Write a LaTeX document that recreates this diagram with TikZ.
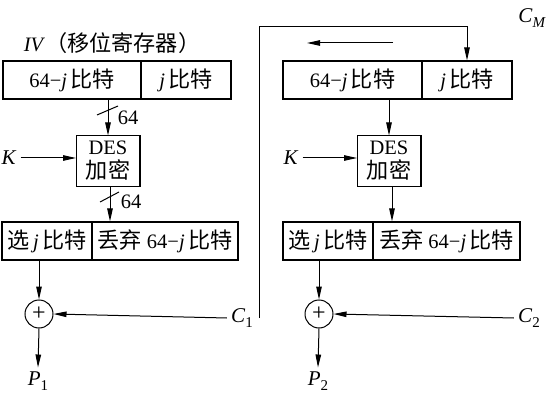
\documentclass[tikz,border=0pt]{standalone}
\usepackage{fontspec}
\setmainfont{Liberation Serif}
\newfontfamily\cjk[Scale=1.08]{Noto Sans CJK SC}
\usetikzlibrary{arrows.meta}
\newcommand{\isub}[2]{\textit{#1}\raisebox{-0.5ex}{\fontsize{15}{16}\selectfont #2}}
\tikzset{
  box/.style={draw, line width=1.1pt, minimum height=38pt, inner sep=0pt},
  desbox/.style={draw, line width=1pt, minimum width=63pt, minimum height=50pt, inner sep=0pt, align=center, font=\fontsize{20.5}{24}\selectfont},
  arr/.style={-{Triangle[length=13pt,width=5.5pt]}, line width=1pt},
  ln/.style={line width=1pt},
  xorc/.style={draw, circle, line width=1pt, minimum size=28pt, inner sep=0pt, font=\fontsize{24}{24}\selectfont},
  lbl/.style={inner sep=4pt, font=\fontsize{21}{24}\selectfont}
}
\begin{document}
\begin{tikzpicture}[x=1pt,y=-1pt,font=\fontsize{20.5}{24}\selectfont]
\useasboundingbox (0,0) rectangle (549,401);
% ---------- left ----------
\node (iv) at (112,43) {\textit{IV}{\cjk （移位寄存器）}};
\node[box, minimum width=138pt] (L1a) at (72,80) {64−\textit{j}\,{\cjk 比特}};
\node[box, minimum width=90pt] (L1b) at (186,80) {\textit{j}\,{\cjk 比特}};
\node[desbox] (DL) at (108,161) {DES\\{\cjk 加密}};
\draw[line width=1.8pt] (DL.north east) -- (DL.south east) -- (DL.south west);
\node[box, minimum width=90pt] (L3a) at (47,241) {{\cjk 选}\,\textit{j}\,{\cjk 比特}};
\node[box, minimum width=146pt] (L3b) at (165,241) {{\cjk 丢弃} 64−\textit{j}\,{\cjk 比特}};
\node[xorc] (XL) at (39,314) {\raisebox{0.1ex}{+}};
\node[lbl] (KL) at (9,158) {\textit{K}};
\node[lbl] (C1) at (242,318) {\isub{C}{1}};
\node[lbl] (P1) at (38,381) {\isub{P}{1}};
\draw[arr] (DL.north |- L1a.south) -- (DL.north);
\draw[arr] (KL.east) -- (KL.east -| DL.west);
\draw[arr] ([xshift=2pt]DL.south) -- ([xshift=2pt]DL.south |- L3a.north);
\draw[arr] (XL.north |- L3a.south) -- (XL.north);
\draw[arr] (C1.west) -- (XL.east);
\draw[arr] (XL.south) -- (P1.north);
% slash marks
\draw[ln] (97,115) -- (118,106);
\node[inner sep=0pt] (n64a) at (128,118) {64};
\draw[ln] (100,202) -- (119,192);
\node[inner sep=0pt] (n64b) at (131,202) {64};
% ---------- right ----------
\node[box, minimum width=139pt] (R1a) at (352.5,80) {64−\textit{j}\,{\cjk 比特}};
\node[box, minimum width=90pt] (R1b) at (467,80) {\textit{j}\,{\cjk 比特}};
\node[desbox] (DR) at (389,161) {DES\\{\cjk 加密}};
\draw[line width=1.8pt] (DR.north east) -- (DR.south east) -- (DR.south west);
\node[box, minimum width=90pt] (R3a) at (328,241) {{\cjk 选}\,\textit{j}\,{\cjk 比特}};
\node[box, minimum width=147pt] (R3b) at (446.5,241) {{\cjk 丢弃} 64−\textit{j}\,{\cjk 比特}};
\node[xorc] (XR) at (319,314) {\raisebox{0.1ex}{+}};
\node[lbl] (KR) at (291,158) {\textit{K}};
\node[lbl] (C2) at (529,318) {\isub{C}{2}};
\node[lbl] (P2) at (318,381) {\isub{P}{2}};
\node[lbl, anchor=east] (CM) at (550,18) {\isub{C}{\textit{M}}};
\draw[arr] (DR.north |- R1a.south) -- (DR.north);
\draw[arr] (KR.east) -- (KR.east -| DR.west);
\draw[arr] ([xshift=3pt]DR.south) -- ([xshift=3pt]DR.south |- R3a.north);
\draw[arr] (XR.north |- R3a.south) -- (XR.north);
\draw[arr] (C2.west) -- (XR.east);
\draw[arr] (XR.south) -- (P2.north);
% feedback C1 -> right register
\coordinate (fb) at (259,318);
\coordinate (fbtop) at (259,27);
\draw[arr] (fb) -- (fbtop) -| (R1b.north);
% shift direction arrow
\coordinate (sh1) at (393,43);
\coordinate (sh2) at (307,43);
\draw[arr] (sh1) -- (sh2);
\end{tikzpicture}
\end{document}
